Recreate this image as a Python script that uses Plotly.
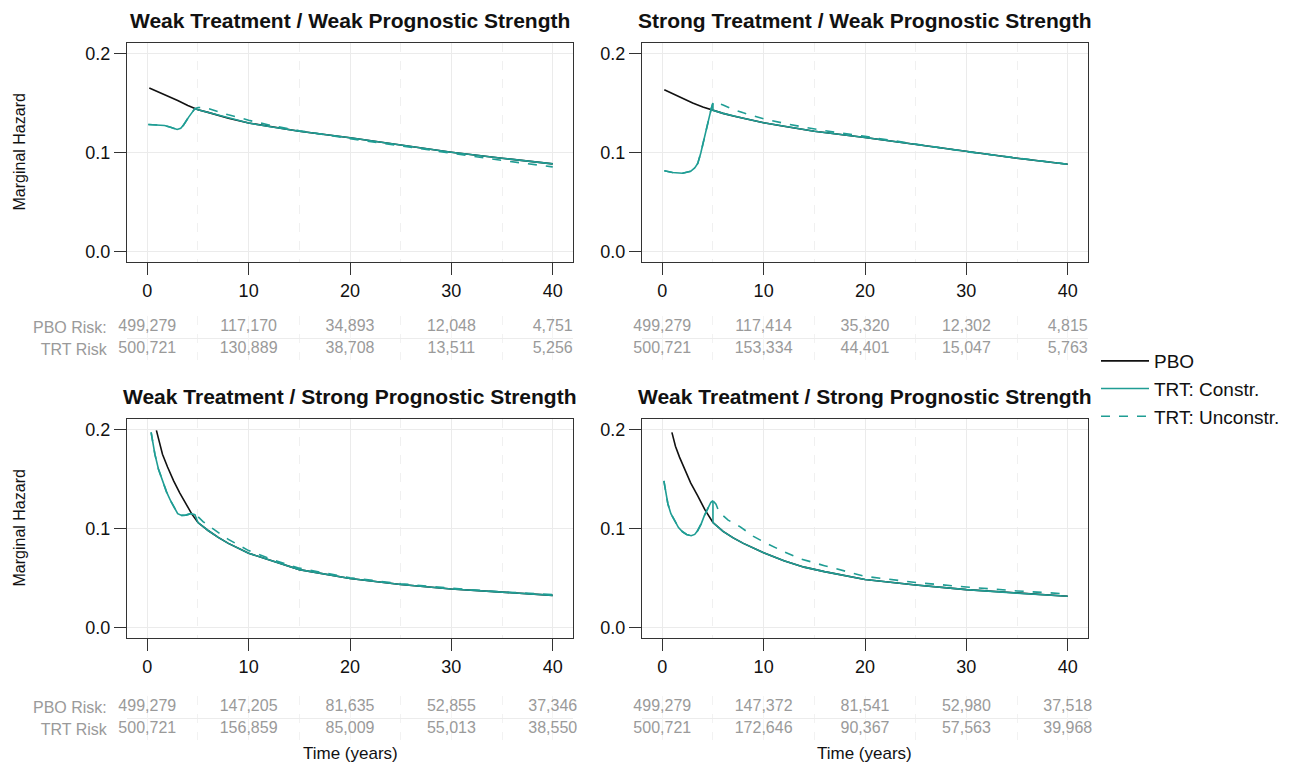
import plotly.graph_objects as go

# ---------------- data ----------------
risk_times = [0, 10, 20, 30, 40]

# Panel 1: Weak Treatment / Weak Prognostic Strength
ww_pbo_t = [0.2, 1, 2, 3, 4, 4.7, 5, 6, 8, 10, 12, 15, 20, 25, 30, 35, 40]
ww_pbo_v = [0.165, 0.1615, 0.157, 0.1525, 0.1475, 0.1443, 0.1432, 0.1405, 0.1345, 0.1297,
            0.1262, 0.1215, 0.1148, 0.1077, 0.1003, 0.0942, 0.0885]
ww_con_t = [0.1, 0.8, 1.7, 2.3, 2.95, 3.3, 3.6, 4.1, 4.7, 5, 6, 8, 10, 12, 15, 20, 25, 30, 35, 40]
ww_con_v = [0.1283, 0.128, 0.1272, 0.1255, 0.1232, 0.1245, 0.128, 0.136, 0.1443, 0.1432, 0.1405,
            0.1345, 0.1297, 0.1262, 0.1215, 0.1148, 0.1077, 0.1003, 0.0942, 0.0885]
ww_unc_t = [0.1, 0.8, 1.7, 2.3, 2.95, 3.3, 3.6, 4.1, 4.7, 5, 5.5, 6, 7, 8, 9, 10, 12, 15, 20, 25,
            30, 35, 40]
ww_unc_v = [0.1283, 0.128, 0.1272, 0.1255, 0.1232, 0.1245, 0.128, 0.136, 0.1443, 0.1453, 0.1455,
            0.1445, 0.141, 0.138, 0.1355, 0.1325, 0.1278, 0.122, 0.114, 0.1065, 0.099, 0.092, 0.0855]
ww_pbo_risk = [499279, 117170, 34893, 12048, 4751]
ww_trt_risk = [500721, 130889, 38708, 13511, 5256]

# Panel 2: Strong Treatment / Weak Prognostic Strength
sw_pbo_t = [0.2, 1, 2, 3, 4, 5, 6, 7, 8, 10, 12, 15, 20, 25, 30, 35, 40]
sw_pbo_v = [0.1633, 0.1595, 0.1545, 0.150, 0.146, 0.1425, 0.1395, 0.1368, 0.1345, 0.130,
            0.1265, 0.1215, 0.1152, 0.108, 0.1008, 0.0942, 0.0882]
sw_con_t = [0.2, 1, 2, 2.8, 3.2, 3.5, 3.8, 4.1, 4.4, 4.7, 4.85, 5.0, 5.0, 6, 7, 8, 10, 12, 15,
            20, 25, 30, 35, 40]
sw_con_v = [0.0815, 0.0798, 0.079, 0.081, 0.0845, 0.089, 0.0995, 0.113, 0.127, 0.1395, 0.145,
            0.150, 0.1425, 0.1395, 0.1368, 0.1345, 0.130, 0.1265, 0.1215, 0.1152, 0.108, 0.1008,
            0.0942, 0.0882]
sw_unc_t = [0.2, 1, 2, 2.8, 3.2, 3.5, 3.8, 4.1, 4.4, 4.7, 4.85, 5.0, 5.5, 6, 7, 8, 10, 12, 14,
            17, 20, 25, 30, 35, 40]
sw_unc_v = [0.0815, 0.0798, 0.079, 0.081, 0.0845, 0.089, 0.0995, 0.113, 0.127, 0.1395, 0.145,
            0.150, 0.1495, 0.148, 0.1435, 0.140, 0.134, 0.1295, 0.1255, 0.1205, 0.1163, 0.1085,
            0.1008, 0.0945, 0.0882]
sw_pbo_risk = [499279, 117414, 35320, 12302, 4815]
sw_trt_risk = [500721, 153334, 44401, 15047, 5763]

# Panel 3: Weak Treatment / Strong Prognostic Strength
ws_pbo_t = [0.9, 1.2, 1.5, 2, 2.6, 3.2, 3.8, 4.4, 5, 6, 7, 8, 10, 12.5, 15, 20, 25, 30, 35, 40]
ws_pbo_v = [0.199, 0.186, 0.175, 0.162, 0.148, 0.136, 0.125, 0.1145, 0.106, 0.098, 0.091, 0.085,
            0.075, 0.0665, 0.0585, 0.0495, 0.0435, 0.039, 0.0357, 0.0325]
ws_con_t = [0.38, 0.5, 0.75, 1.1, 1.5, 1.9, 2.3, 2.7, 3.0, 3.4, 3.8, 4.3, 4.7, 5.0, 6, 7, 8, 10,
            12.5, 15, 20, 25, 30, 35, 40]
ws_con_v = [0.197, 0.19, 0.175, 0.16, 0.148, 0.137, 0.128, 0.12, 0.115, 0.1132, 0.1135, 0.115,
            0.114, 0.106, 0.098, 0.091, 0.085, 0.075, 0.0665, 0.0585, 0.0495, 0.0435, 0.039,
            0.0357, 0.0325]
ws_unc_t = [0.38, 0.5, 0.75, 1.1, 1.5, 1.9, 2.3, 2.7, 3.0, 3.4, 3.8, 4.3, 4.7, 5.0, 5.5, 6.2, 7,
            8, 10, 12.5, 15, 20, 25, 30, 35, 40]
ws_unc_v = [0.197, 0.19, 0.175, 0.16, 0.148, 0.137, 0.128, 0.12, 0.115, 0.1132, 0.1135, 0.115,
            0.114, 0.112, 0.107, 0.1017, 0.096, 0.089, 0.0777, 0.068, 0.060, 0.0503, 0.0443,
            0.0397, 0.036, 0.0333]
ws_pbo_risk = [499279, 147205, 81635, 52855, 37346]
ws_trt_risk = [500721, 156859, 85009, 55013, 38550]

# Panel 4: Weak Treatment / Strong Prognostic Strength (second)
ss_pbo_t = [0.95, 1.3, 1.7, 2.2, 2.8, 3.5, 4.2, 5.0, 6, 7, 8, 10, 12, 14, 16, 20, 25, 30, 35, 40]
ss_pbo_v = [0.197, 0.183, 0.172, 0.16, 0.146, 0.133, 0.119, 0.106, 0.097, 0.0905, 0.085, 0.0755,
            0.0675, 0.061, 0.0565, 0.0485, 0.043, 0.0383, 0.0348, 0.0317]
ss_con_t = [0.16, 0.35, 0.55, 0.85, 1.2, 1.6, 2.0, 2.4, 2.85, 3.2, 3.5, 3.85, 4.15, 4.5, 4.8, 5.0,
            5.0, 6, 7, 8, 10, 12, 14, 16, 20, 25, 30, 35, 40]
ss_con_v = [0.148, 0.135, 0.125, 0.115, 0.108, 0.101, 0.0967, 0.094, 0.0927, 0.094, 0.098, 0.105,
            0.113, 0.121, 0.1265, 0.128, 0.106, 0.097, 0.0905, 0.085, 0.0755, 0.0675, 0.061,
            0.0565, 0.0485, 0.043, 0.0383, 0.0348, 0.0317]
ss_unc_t = [0.16, 0.35, 0.55, 0.85, 1.2, 1.6, 2.0, 2.4, 2.85, 3.2, 3.5, 3.85, 4.15, 4.5, 4.8, 5.0,
            5.3, 5.6, 6.5, 7.7, 9, 10, 12, 13.6, 16, 20, 25, 30, 35, 40]
ss_unc_v = [0.148, 0.135, 0.125, 0.115, 0.108, 0.101, 0.0967, 0.094, 0.0927, 0.094, 0.098, 0.105,
            0.113, 0.121, 0.1265, 0.128, 0.1245, 0.1167, 0.1085, 0.1017, 0.092, 0.0865, 0.0765,
            0.0695, 0.0625, 0.0517, 0.0455, 0.041, 0.037, 0.034]
ss_pbo_risk = [499279, 147372, 81541, 52980, 37518]
ss_trt_risk = [500721, 172646, 90367, 57563, 39968]

titles = ["Weak Treatment / Weak Prognostic Strength",
          "Strong Treatment / Weak Prognostic Strength",
          "Weak Treatment / Strong Prognostic Strength",
          "Weak Treatment / Strong Prognostic Strength"]
series_names = ["PBO", "TRT: Constr.", "TRT: Unconstr."]
risk_row_labels = ["PBO Risk:", "TRT Risk"]
y_ticks = [0.0, 0.1, 0.2]

panels = [
    (ww_pbo_t, ww_pbo_v, ww_con_t, ww_con_v, ww_unc_t, ww_unc_v, ww_pbo_risk, ww_trt_risk),
    (sw_pbo_t, sw_pbo_v, sw_con_t, sw_con_v, sw_unc_t, sw_unc_v, sw_pbo_risk, sw_trt_risk),
    (ws_pbo_t, ws_pbo_v, ws_con_t, ws_con_v, ws_unc_t, ws_unc_v, ws_pbo_risk, ws_trt_risk),
    (ss_pbo_t, ss_pbo_v, ss_con_t, ss_con_v, ss_unc_t, ss_unc_v, ss_pbo_risk, ss_trt_risk),
]

# ---------------- layout geometry / style ----------------
W, H = 1307, 766
OFF = 8                      # page body margin of the html page
FW, FH = W - OFF, H - OFF    # figure size
FONT = "Liberation Sans, Arial, sans-serif"
BLACK = "#111111"
TEAL = "#1f9d94"
GRAY = "#9a9a9a"
GRID = "#ebebeb"
MINOR = "#f0f0f0"
AXLINE = "#333333"


def fx(a, b):
    return [(a - OFF) / FW, (b - OFF) / FW]


def fy(top, bottom):
    return [1 - (bottom - OFF) / FH, 1 - (top - OFF) / FH]


def px(a):
    return (a - OFF) / FW


def py(a):
    return 1 - (a - OFF) / FH


col_px = [(127, 573), (642, 1088)]
plot_row_px = [(43, 262), (419, 638)]
table_row_px = [(316, 360), (696, 740)]

fig = go.Figure()
layout = dict(
    width=FW, height=FH,
    margin=dict(l=0, r=0, t=0, b=0),
    paper_bgcolor="white", plot_bgcolor="white",
    font=dict(family=FONT, color=BLACK),
    showlegend=True,
    legend=dict(x=px(1096), y=py(342), xanchor="left", yanchor="top",
                font=dict(size=19, family=FONT, color=BLACK), itemwidth=48,
                bgcolor="rgba(0,0,0,0)", tracegroupgap=0),
)
annotations = []

for i, (pt, pv, ct, cv, ut, uv, prisk, trisk) in enumerate(panels):
    r, c = divmod(i, 2)
    pa = i + 1          # plot axis index
    ta = i + 5          # table axis index
    xd = fx(*col_px[c])
    xs_p = "x" if pa == 1 else f"x{pa}"
    ys_p = "y" if pa == 1 else f"y{pa}"
    xs_t, ys_t = f"x{ta}", f"y{ta}"
    xk_p = "xaxis" if pa == 1 else f"xaxis{pa}"
    yk_p = "yaxis" if pa == 1 else f"yaxis{pa}"

    layout[xk_p] = dict(
        domain=xd, anchor=ys_p, range=[-2, 42],
        tickvals=risk_times, ticks="outside", ticklen=12, tickwidth=1.3, tickcolor=AXLINE,
        tickfont=dict(size=18, color=BLACK, family=FONT),
        showline=True, linecolor=AXLINE, linewidth=1.3, mirror=True,
        showgrid=True, gridcolor=GRID, gridwidth=1, zeroline=False,
        minor=dict(tickvals=[5, 15, 25, 35], showgrid=True, gridcolor=MINOR,
                   griddash="dash", gridwidth=1, ticks=""),
    )
    layout[yk_p] = dict(
        domain=fy(*plot_row_px[r]), anchor=xs_p, range=[-0.0105, 0.2105],
        tickvals=y_ticks, tickformat=".1f", ticks="outside", ticklen=12, tickwidth=1.3,
        tickcolor=AXLINE, tickfont=dict(size=18, color=BLACK, family=FONT),
        showline=True, linecolor=AXLINE, linewidth=1.3, mirror=True,
        showgrid=True, gridcolor=GRID, gridwidth=1, zeroline=False,
    )
    # risk table axes
    layout[f"xaxis{ta}"] = dict(
        domain=xd, anchor=ys_t, range=[-2, 42], showticklabels=False, ticks="",
        tickvals=risk_times, showgrid=True, gridcolor="#f4f4f4", zeroline=False,
        showline=False,
        minor=dict(tickvals=[5, 15, 25, 35], showgrid=True, gridcolor="#f2f2f2",
                   griddash="dash", ticks=""),
    )
    layout[f"yaxis{ta}"] = dict(
        domain=fy(*table_row_px[r]), anchor=xs_t, range=[-0.5, 1.5],
        tickvals=[1, 0], ticktext=risk_row_labels if c == 0 else ["", ""],
        showticklabels=(c == 0), ticks="outside", ticklen=16,
        tickcolor="rgba(0,0,0,0)", tickfont=dict(size=16, color=GRAY, family=FONT),
        showgrid=False, zeroline=False, showline=False,
        minor=dict(tickvals=[0.5], showgrid=True, gridcolor="#ececec", ticks=""),
    )

    show = (i == 0)
    fig.add_trace(go.Scatter(x=pt, y=pv, mode="lines", name=series_names[0],
                             line=dict(color=BLACK, width=1.6), xaxis=xs_p, yaxis=ys_p,
                             legendgroup="pbo", showlegend=show))
    fig.add_trace(go.Scatter(x=ct, y=cv, mode="lines", name=series_names[1],
                             line=dict(color=TEAL, width=1.6), xaxis=xs_p, yaxis=ys_p,
                             legendgroup="con", showlegend=show))
    fig.add_trace(go.Scatter(x=ut, y=uv, mode="lines", name=series_names[2],
                             line=dict(color=TEAL, width=1.6, dash="dash"),
                             xaxis=xs_p, yaxis=ys_p, legendgroup="unc", showlegend=show))
    # risk numbers
    fig.add_trace(go.Scatter(x=risk_times, y=[1] * len(risk_times), mode="text",
                             text=[f"{v:,}" for v in prisk], cliponaxis=False,
                             textfont=dict(size=16, color=GRAY, family=FONT),
                             xaxis=xs_t, yaxis=ys_t, showlegend=False, hoverinfo="skip"))
    fig.add_trace(go.Scatter(x=risk_times, y=[0] * len(risk_times), mode="text",
                             text=[f"{v:,}" for v in trisk], cliponaxis=False,
                             textfont=dict(size=16, color=GRAY, family=FONT),
                             xaxis=xs_t, yaxis=ys_t, showlegend=False, hoverinfo="skip"))

    # panel title
    cxp = (col_px[c][0] + col_px[c][1]) / 2
    ty = 20 if r == 0 else 396
    annotations.append(dict(text=f"<b>{titles[i]}</b>", x=px(cxp), y=py(ty), xref="paper",
                            yref="paper", xanchor="center", yanchor="middle", showarrow=False,
                            font=dict(size=21, color=BLACK, family=FONT)))
    if c == 0:
        yc = (plot_row_px[r][0] + plot_row_px[r][1]) / 2
        annotations.append(dict(text="Marginal Hazard", x=px(19), y=py(yc),
                                xref="paper", yref="paper", textangle=-90, showarrow=False,
                                xanchor="center", yanchor="middle",
                                font=dict(size=16, color=BLACK, family=FONT)))
    if r == 1:
        annotations.append(dict(text="Time (years)", x=px(cxp), y=py(753), xref="paper",
                                yref="paper", xanchor="center", yanchor="middle",
                                showarrow=False, font=dict(size=17, color=BLACK, family=FONT)))

layout["annotations"] = annotations
fig.update_layout(**layout)
fig.write_html("out.html")
